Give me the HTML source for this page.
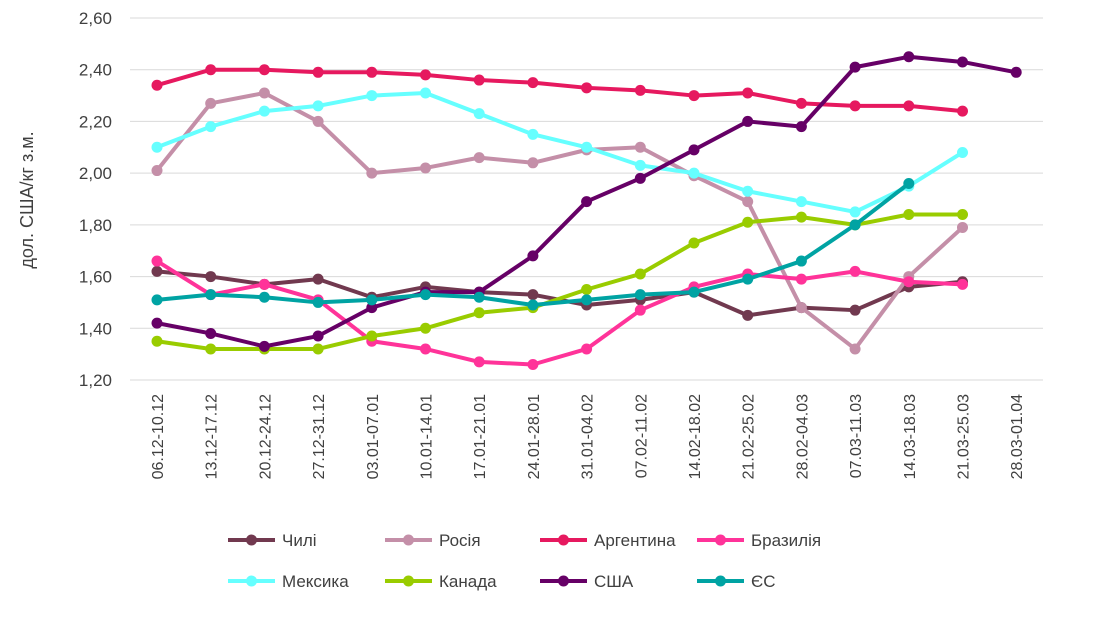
<!DOCTYPE html>
<html><head><meta charset="utf-8"><style>
body{margin:0;background:#fff;}
svg text{font-family:"Liberation Sans","DejaVu Sans",sans-serif;fill:#404040;}
</style></head><body>
<svg id="c" width="1110" height="615" xmlns="http://www.w3.org/2000/svg"></svg>
<script>
const s=document.getElementById('c');let h='';
const Y=v=>380-(v-1.2)/1.4*362, X=i=>157+i*53.7;
for(let k=0;k<8;k++){const v=1.2+k*0.2,y=Y(v);h+=`<line x1="130" x2="1043" y1="${y}" y2="${y}" stroke="#d9d9d9" stroke-width="1"/>`;
h+=`<text x="112" y="${y+6}" font-size="17" text-anchor="end">${v.toFixed(2).replace('.',',')}</text>`;}
const L=["06.12-10.12","13.12-17.12","20.12-24.12","27.12-31.12","03.01-07.01","10.01-14.01","17.01-21.01","24.01-28.01","31.01-04.02","07.02-11.02","14.02-18.02","21.02-25.02","28.02-04.03","07.03-11.03","14.03-18.03","21.03-25.03","28.03-01.04"];
L.forEach((t,i)=>h+=`<text transform="translate(${X(i)+6},394) rotate(-90)" font-size="16" text-anchor="end">${t}</text>`);
h+=`<text transform="translate(33,200) rotate(-90)" font-size="18" text-anchor="middle">дол. США/кг з.м.</text>`;
const S=[
["Чилі","#71394f",[1.62,1.60,1.57,1.59,1.52,1.56,1.54,1.53,1.49,1.51,1.54,1.45,1.48,1.47,1.56,1.58]],
["Росія","#c48fa8",[2.01,2.27,2.31,2.20,2.00,2.02,2.06,2.04,2.09,2.10,1.99,1.89,1.48,1.32,1.60,1.79]],
["Аргентина","#e6195f",[2.34,2.40,2.40,2.39,2.39,2.38,2.36,2.35,2.33,2.32,2.30,2.31,2.27,2.26,2.26,2.24]],
["Бразилія","#ff3399",[1.66,1.53,1.57,1.51,1.35,1.32,1.27,1.26,1.32,1.47,1.56,1.61,1.59,1.62,1.58,1.57]],
["Мексика","#66ffff",[2.10,2.18,2.24,2.26,2.30,2.31,2.23,2.15,2.10,2.03,2.00,1.93,1.89,1.85,1.95,2.08]],
["Канада","#99cc00",[1.35,1.32,1.32,1.32,1.37,1.40,1.46,1.48,1.55,1.61,1.73,1.81,1.83,1.80,1.84,1.84]],
["США","#660066",[1.42,1.38,1.33,1.37,1.48,1.54,1.54,1.68,1.89,1.98,2.09,2.20,2.18,2.41,2.45,2.43,2.39]],
["ЄС","#00a3a3",[1.51,1.53,1.52,1.50,1.51,1.53,1.52,1.49,1.51,1.53,1.54,1.59,1.66,1.80,1.96]]];
S.forEach(([n,c,d],k)=>{
h+=`<polyline fill="none" stroke="${c}" stroke-width="4" stroke-linejoin="round" points="${d.map((v,i)=>X(i)+','+Y(v)).join(' ')}"/>`;
d.forEach((v,i)=>h+=`<circle cx="${X(i)}" cy="${Y(v)}" r="5.5" fill="${c}"/>`);
const lx=[228,385,540,697][k%4], ly=k<4?540:581;
h+=`<line x1="${lx}" x2="${lx+47}" y1="${ly}" y2="${ly}" stroke="${c}" stroke-width="4"/><circle cx="${lx+23.5}" cy="${ly}" r="5.5" fill="${c}"/>`;
h+=`<text x="${lx+54}" y="${ly+6}" font-size="17">${n}</text>`;
});
s.innerHTML=h;
</script>
</body></html>
